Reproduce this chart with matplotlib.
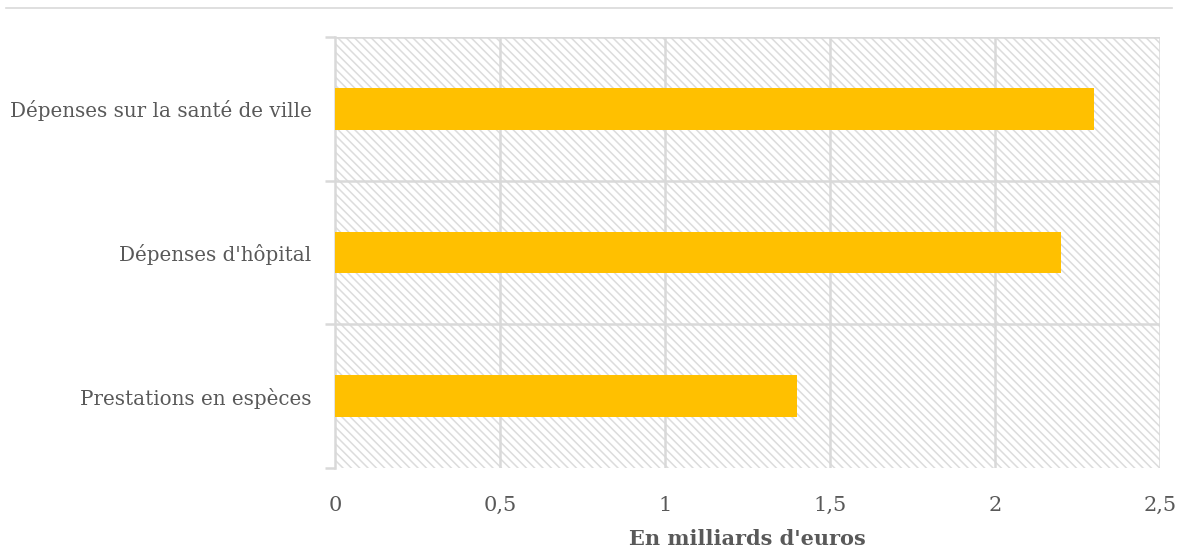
import matplotlib.pyplot as plt
import matplotlib.patches as mpatches
from matplotlib.lines import Line2D

categories = ["Prestations en espèces", "Dépenses d'hôpital", "Dépenses sur la santé de ville"]
values = [1.4, 2.2, 2.3]
xticks = [0, 0.5, 1, 1.5, 2, 2.5]
xtick_labels = ["0", "0,5", "1", "1,5", "2", "2,5"]
xlabel = "En milliards d'euros"

plt.rcParams['font.family'] = ['DejaVu Serif']
plt.rcParams['hatch.color'] = '#dcdcdc'
plt.rcParams['hatch.linewidth'] = 1.1

fig = plt.figure(figsize=(11.78, 5.47), dpi=100)
ax = fig.add_axes([335/1178, 1 - 468/547, (1160-335)/1178, (468-37)/547])

grid_c = '#d9d9d9'
text_c = '#595959'

# hatched background
bg = mpatches.Rectangle((0, 0), 1, 1, transform=ax.transAxes, facecolor='white',
                        edgecolor='#dcdcdc', hatch='\\' * 4, linewidth=0, zorder=0)
ax.add_patch(bg)

ypos = list(range(len(categories)))
ax.barh(ypos, values, height=0.29, color='#FFC000', zorder=3)

ax.set_xlim(0, 2.5)
ax.set_ylim(-0.5, len(categories) - 0.5)
ax.set_xticks(xticks)
ax.set_xticklabels(xtick_labels, fontsize=15, color=text_c)
ax.set_yticks(ypos)
ax.set_yticklabels(categories, fontsize=14.3, color=text_c)
ax.tick_params(axis='y', which='major', length=0, pad=17)
ax.tick_params(axis='x', which='major', length=0, pad=20)

# minor ticks at category boundaries
bounds = [i - 0.5 for i in range(len(categories) + 1)]
ax.set_yticks(bounds, minor=True)
ax.tick_params(axis='y', which='minor', length=7, width=1.8, color=grid_c)

for x in xticks[1:]:
    ax.axvline(x, color=grid_c, lw=1.8, zorder=1)
for b in bounds[1:]:
    ax.axhline(b, color=grid_c, lw=1.8, zorder=1)

for s in ['top', 'right', 'bottom']:
    ax.spines[s].set_visible(False)
ax.spines['left'].set_color(grid_c)
ax.spines['left'].set_linewidth(1.8)

ax.set_xlabel(xlabel, fontsize=15, color=text_c, fontweight='bold', labelpad=10)

# thin line at top of figure
fig.add_artist(Line2D([6/1178, 1172/1178], [1 - 8/547, 1 - 8/547], transform=fig.transFigure,
                      color='#d9d9d9', lw=1.2))

fig.savefig('out.png', dpi=100)
